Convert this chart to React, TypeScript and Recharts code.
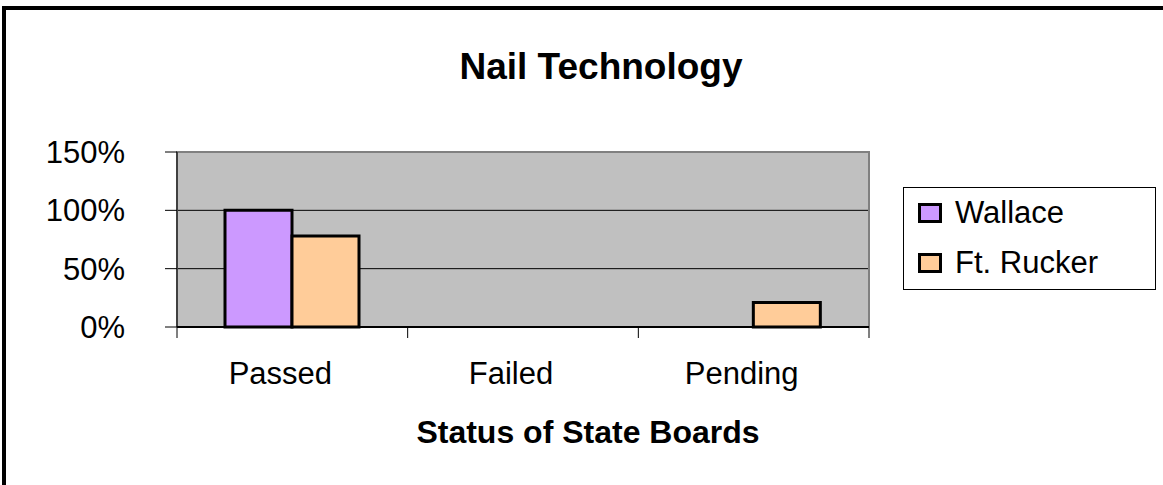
import React from 'react';
import {
  BarChart,
  Bar,
  XAxis,
  YAxis,
  CartesianGrid,
  ReferenceArea,
  Legend,
} from 'recharts';

const categories = ['Passed', 'Failed', 'Pending'];
const wallace = [1.0, 0, 0];
const ftRucker = [0.78, 0, 0.21];
const yTicks = [0, 0.5, 1, 1.5];
const edgeTicks = [0, 1, 2, 3];
const seriesOrder = ['Wallace', 'Ft. Rucker'];

const data = categories.map((status, i) => ({
  status,
  wallace: wallace[i],
  ftRucker: ftRucker[i],
  edge: i,
}));

const FONT = '"Liberation Sans", Arial, sans-serif';

function LegendBox({ payload }: { payload?: Array<{ value: string; color: string }> }) {
  const items = [...(payload || [])].sort(
    (a, b) => seriesOrder.indexOf(a.value) - seriesOrder.indexOf(b.value)
  );
  return (
    <div
      style={{
        boxSizing: 'border-box',
        width: 253,
        height: 103,
        border: '1px solid #000',
        background: '#fff',
        fontFamily: FONT,
        fontSize: 31,
        color: '#000',
      }}
    >
      {items.map((entry, i) => (
        <div
          key={i}
          style={{ height: 50, display: 'flex', alignItems: 'center', paddingLeft: 14 }}
        >
          <div
            style={{
              boxSizing: 'border-box',
              width: 24,
              height: 20,
              border: '3px solid #000',
              background: entry.color,
              marginRight: 13,
            }}
          />
          <span>{entry.value}</span>
        </div>
      ))}
    </div>
  );
}

const NoLabel = () => <g />;

export default function App() {
  return (
    <div style={{ position: 'absolute', left: 0, top: 0, width: 1163, height: 485, overflow: 'hidden', background: '#fff' }}>
      {/* chart frame, only top and left edges fall inside the picture */}
      <div
        style={{
          position: 'absolute',
          left: 2,
          top: 6,
          width: 1200,
          height: 520,
          borderTop: '4px solid #000',
          borderLeft: '4px solid #000',
        }}
      />
      <div
        style={{
          position: 'absolute',
          left: 0,
          top: 48,
          width: 1202,
          textAlign: 'center',
          fontFamily: FONT,
          fontWeight: 'bold',
          fontSize: 37,
          lineHeight: '37px',
        }}
      >
        Nail Technology
      </div>
      <div
        style={{
          position: 'absolute',
          left: 0,
          top: 416,
          width: 1176,
          textAlign: 'center',
          fontFamily: FONT,
          fontWeight: 'bold',
          fontSize: 32,
          lineHeight: '32px',
        }}
      >
        Status of State Boards
      </div>
      <div style={{ position: 'absolute', left: 0, top: 0 }}>
        <BarChart
          width={1163}
          height={485}
          data={data}
          barGap={0}
          margin={{ top: 152, right: 294, left: 0, bottom: 0 }}
        >
          <CartesianGrid vertical={false} stroke="#000" fill="#C0C0C0" />
          <ReferenceArea y1={0} y2={1.5} fill="none" stroke="#808080" strokeWidth={2} />
          <XAxis
            xAxisId="edges"
            dataKey="edge"
            type="number"
            domain={[0, 3]}
            ticks={edgeTicks}
            height={157}
            tick={NoLabel}
            axisLine={false}
            tickLine={{ stroke: '#000' }}
            tickSize={10}
            interval={0}
          />
          <XAxis
            dataKey="status"
            height={1}
            tickLine={false}
            tickSize={10}
            tickMargin={25}
            axisLine={{ stroke: '#000', strokeWidth: 2 }}
            tick={{ fill: '#000', fontSize: 31, fontFamily: FONT, dx: -12 }}
          />
          <YAxis
            width={177}
            domain={[0, 1.5]}
            ticks={yTicks}
            tickFormatter={(v: number) => `${Math.round(v * 100)}%`}
            tickSize={12}
            tickMargin={40}
            axisLine={{ stroke: '#000' }}
            tickLine={{ stroke: '#000' }}
            tick={{ fill: '#000', fontSize: 31, fontFamily: FONT }}
          />
          <Bar
            dataKey="wallace"
            name="Wallace"
            fill="#CC99FF"
            stroke="#000"
            strokeWidth={3}
            barSize={67}
            isAnimationActive={false}
          />
          <Bar
            dataKey="ftRucker"
            name="Ft. Rucker"
            fill="#FFCC99"
            stroke="#000"
            strokeWidth={3}
            barSize={67}
            isAnimationActive={false}
          />
          <Legend
            layout="vertical"
            align="center"
            verticalAlign="middle"
            content={<LegendBox />}
            wrapperStyle={{ left: 903, top: 187, width: 253, height: 103 }}
          />
        </BarChart>
      </div>
    </div>
  );
}
